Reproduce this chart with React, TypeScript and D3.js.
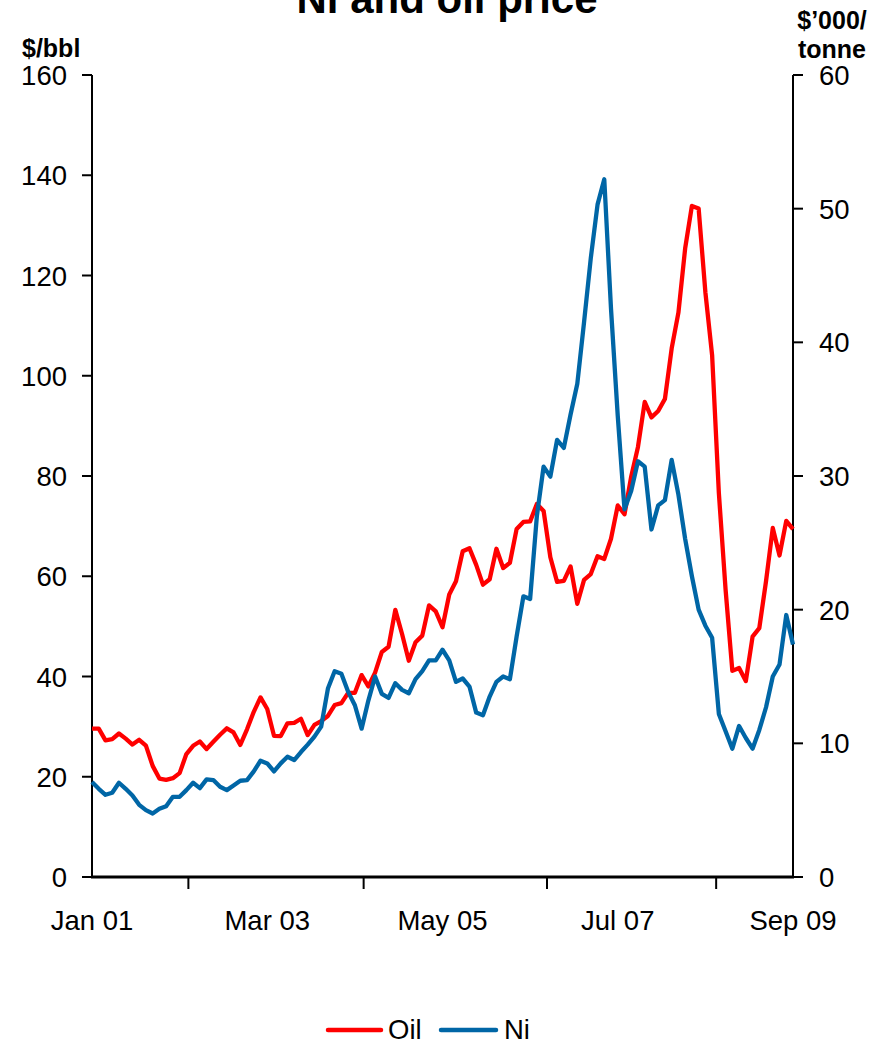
import React from "react";
import * as d3 from "d3";

const startMonth = new Date(2001, 0, 1);
const months: Date[] = d3.timeMonth.range(startMonth, new Date(2009, 9, 1));

// WTI oil, $/bbl (monthly)
const oil: number[] = [
  29.59, 29.61, 27.25, 27.49, 28.63, 27.6, 26.43, 27.37, 26.2, 22.17, 19.64, 19.39,
  19.72, 20.72, 24.53, 26.18, 27.04, 25.52, 26.97, 28.39, 29.66, 28.84, 26.35, 29.46,
  32.95, 35.83, 33.51, 28.17, 28.11, 30.66, 30.76, 31.57, 28.31, 30.34, 31.11, 32.13,
  34.31, 34.69, 36.74, 36.75, 40.28, 38.03, 40.78, 44.9, 45.94, 53.28, 48.47, 43.15,
  46.84, 48.15, 54.19, 52.98, 49.83, 56.35, 59.0, 64.99, 65.59, 62.26, 58.32, 59.41,
  65.49, 61.63, 62.69, 69.44, 70.84, 70.95, 74.41, 73.04, 63.8, 58.89, 59.08, 61.96,
  54.51, 59.28, 60.44, 63.98, 63.46, 67.49, 74.12, 72.36, 79.92, 85.8, 94.77, 91.69,
  92.97, 95.39, 105.45, 112.58, 125.4, 133.88, 133.37, 116.67, 104.11, 76.61, 57.31, 41.12,
  41.71, 39.09, 47.94, 49.65, 59.03, 69.64, 64.15, 71.05, 69.41,
];

// Nickel, $'000/tonne (monthly)
const ni: number[] = [
  7.1, 6.6, 6.15, 6.3, 7.05, 6.6, 6.1, 5.4, 5.0, 4.75, 5.1, 5.3,
  6.0, 6.0, 6.5, 7.05, 6.65, 7.3, 7.25, 6.75, 6.5, 6.85, 7.2, 7.25,
  7.9, 8.7, 8.5, 7.9, 8.5, 9.0, 8.75, 9.35, 9.9, 10.5, 11.25, 14.1,
  15.4, 15.2, 13.85, 12.85, 11.1, 13.2, 15.0, 13.7, 13.4, 14.5, 14.0, 13.75,
  14.8, 15.4, 16.2, 16.2, 17.0, 16.2, 14.6, 14.85, 14.25, 12.3, 12.1, 13.5,
  14.6, 15.0, 14.8, 18.0, 21.0, 20.8, 27.0, 30.7, 29.95, 32.7, 32.1, 34.6,
  36.9, 41.5, 46.3, 50.3, 52.2, 42.5, 34.5, 27.5, 28.9, 31.1, 30.7, 26.0,
  27.8, 28.2, 31.2, 28.6, 25.3, 22.5, 20.0, 18.8, 17.9, 12.2, 10.9, 9.6,
  11.3, 10.4, 9.6, 11.0, 12.7, 15.0, 15.9, 19.6, 17.4,
];

const leftTicks = [0, 20, 40, 60, 80, 100, 120, 140, 160];
const rightTicks = [0, 10, 20, 30, 40, 50, 60];
const xLabelIdx = [0, 26, 52, 78, 104];
const xTickIdx = [14.3, 40.3, 67.5, 92.6];

const title = "Ni and oil price";
const leftUnit = "$/bbl";
const rightUnit = ["$\u2019000/", "tonne"];
const seriesNames = ["Oil", "Ni"];

const W = 890;
const H = 1044;
const plot = { left: 92, right: 793, top: 75, bottom: 877 };
const RED = "#FF0000";
const BLUE = "#0066A6";
const FONT = "'Liberation Sans', Arial, Helvetica, sans-serif";
const FS = 27.5;

const fmtMonth = (d: Date) => d3.timeFormat("%b %y")(d);

export default function App() {
  const x = d3.scaleLinear().domain([0, months.length - 1]).range([plot.left, plot.right]);
  const yL = d3.scaleLinear().domain([0, 160]).range([plot.bottom, plot.top]);
  const yR = d3.scaleLinear().domain([0, 60]).range([plot.bottom, plot.top]);

  const oilLine = d3.line<number>().x((_, i) => x(i)).y((v) => yL(v));
  const niLine = d3.line<number>().x((_, i) => x(i)).y((v) => yR(v));

  return (
    <svg
      width={W}
      height={H}
      style={{ position: "absolute", left: 0, top: 0, background: "#fff" }}
      fontFamily={FONT}
    >
      <rect x={0} y={0} width={W} height={H} fill="#fff" />
      <text x={447} y={13} textAnchor="middle" fontWeight="bold" fontSize={42}>
        {title}
      </text>

      <text x={22} y={57} fontWeight="bold" fontSize={25}>
        {leftUnit}
      </text>
      <text x={832} y={29} textAnchor="middle" fontWeight="bold" fontSize={25}>
        {rightUnit[0]}
      </text>
      <text x={832} y={58} textAnchor="middle" fontWeight="bold" fontSize={25}>
        {rightUnit[1]}
      </text>

      {/* left axis */}
      <line x1={plot.left} x2={plot.left} y1={plot.top} y2={plot.bottom} stroke="#000" strokeWidth={2} />
      {leftTicks.map((t) => (
        <g key={"l" + t}>
          <line x1={plot.left - 10} x2={plot.left} y1={yL(t)} y2={yL(t)} stroke="#000" strokeWidth={2} />
          <text x={67} y={yL(t) + 10} textAnchor="end" fontSize={FS}>
            {t}
          </text>
        </g>
      ))}

      {/* right axis */}
      <line x1={plot.right} x2={plot.right} y1={plot.top} y2={plot.bottom} stroke="#000" strokeWidth={2} />
      {rightTicks.map((t) => (
        <g key={"r" + t}>
          <line x1={plot.right} x2={plot.right + 10} y1={yR(t)} y2={yR(t)} stroke="#000" strokeWidth={2} />
          <text x={819} y={yR(t) + 10} textAnchor="start" fontSize={FS}>
            {t}
          </text>
        </g>
      ))}

      {/* bottom axis */}
      <line x1={plot.left - 1} x2={plot.right + 1} y1={plot.bottom} y2={plot.bottom} stroke="#000" strokeWidth={3} />
      {xTickIdx.map((t) => (
        <line key={"x" + t} x1={x(t)} x2={x(t)} y1={plot.bottom} y2={plot.bottom + 12} stroke="#000" strokeWidth={2} />
      ))}
      {xLabelIdx.map((i) => (
        <text key={"xl" + i} x={x(i)} y={930} textAnchor="middle" fontSize={FS}>
          {fmtMonth(months[i])}
        </text>
      ))}

      {/* series */}
      <path d={oilLine(oil) || ""} fill="none" stroke={RED} strokeWidth={4.3} strokeLinejoin="round" />
      <path d={niLine(ni) || ""} fill="none" stroke={BLUE} strokeWidth={4.3} strokeLinejoin="round" />

      {/* legend */}
      <line x1={328} x2={381} y1={1030} y2={1030} stroke={RED} strokeWidth={4.5} strokeLinecap="round" />
      <text x={388} y={1039} fontSize={FS}>
        {seriesNames[0]}
      </text>
      <line x1={441} x2={496} y1={1030} y2={1030} stroke={BLUE} strokeWidth={4.5} strokeLinecap="round" />
      <text x={504} y={1039} fontSize={FS}>
        {seriesNames[1]}
      </text>
    </svg>
  );
}
